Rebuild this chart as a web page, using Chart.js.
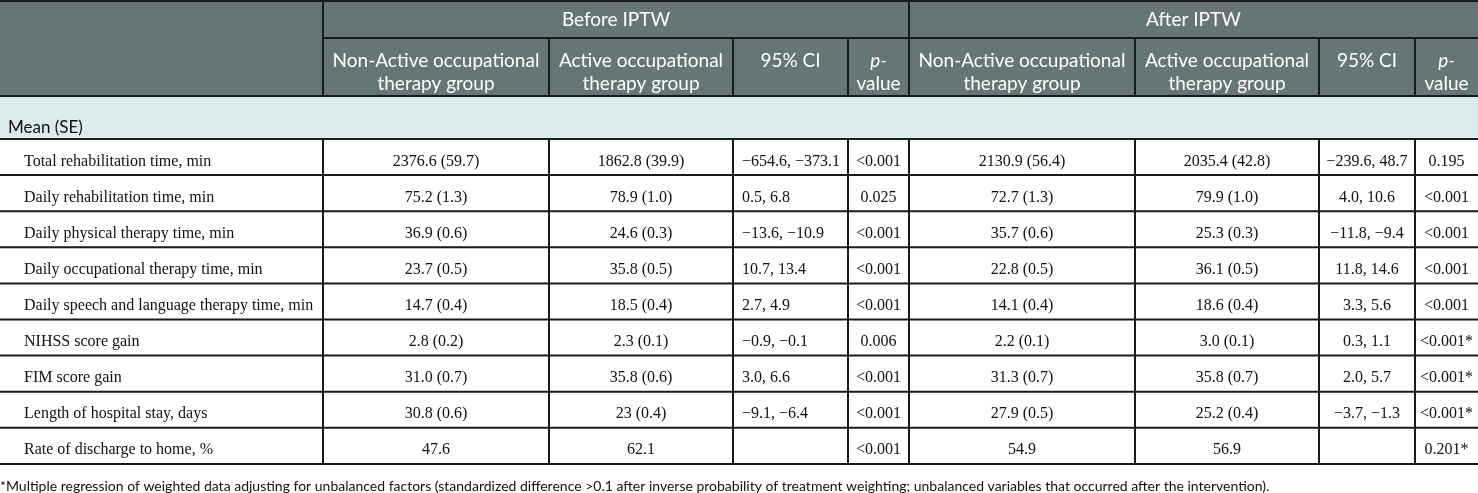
<!DOCTYPE html>
<html>
<head>
<meta charset="utf-8">
<script src="https://cdn.jsdelivr.net/npm/chart.js@4/dist/chart.umd.min.js"></script>
<style>
  html, body { margin: 0; padding: 0; background: #ffffff; }
  #wrap { position: relative; width: 1478px; height: 493px; }
</style>
</head>
<body>
<div id="wrap"><canvas id="c"></canvas></div>
<script>
// ---------- DATA ----------
const groupHeaders = ["Before IPTW", "After IPTW"];
const subHeaders = [
  ["Non-Active occupational", "therapy group"],
  ["Active occupational", "therapy group"],
  ["95% CI"],
  ["p-", "value"]
];
const sectionLabel = "Mean (SE)";
const rowLabels = [
  "Total rehabilitation time, min",
  "Daily rehabilitation time, min",
  "Daily physical therapy time, min",
  "Daily occupational therapy time, min",
  "Daily speech and language therapy time, min",
  "NIHSS score gain",
  "FIM score gain",
  "Length of hospital stay, days",
  "Rate of discharge to home, %"
];
const beforeNonActive = ["2376.6 (59.7)", "75.2 (1.3)", "36.9 (0.6)", "23.7 (0.5)", "14.7 (0.4)", "2.8 (0.2)", "31.0 (0.7)", "30.8 (0.6)", "47.6"];
const beforeActive    = ["1862.8 (39.9)", "78.9 (1.0)", "24.6 (0.3)", "35.8 (0.5)", "18.5 (0.4)", "2.3 (0.1)", "35.8 (0.6)", "23 (0.4)", "62.1"];
const beforeCI        = ["\u2212654.6, \u2212373.1", "0.5, 6.8", "\u221213.6, \u221210.9", "10.7, 13.4", "2.7, 4.9", "\u22120.9, \u22120.1", "3.0, 6.6", "\u22129.1, \u22126.4", ""];
const beforeP         = ["<0.001", "0.025", "<0.001", "<0.001", "<0.001", "0.006", "<0.001", "<0.001", "<0.001"];
const afterNonActive  = ["2130.9 (56.4)", "72.7 (1.3)", "35.7 (0.6)", "22.8 (0.5)", "14.1 (0.4)", "2.2 (0.1)", "31.3 (0.7)", "27.9 (0.5)", "54.9"];
const afterActive     = ["2035.4 (42.8)", "79.9 (1.0)", "25.3 (0.3)", "36.1 (0.5)", "18.6 (0.4)", "3.0 (0.1)", "35.8 (0.7)", "25.2 (0.4)", "56.9"];
const afterCI         = ["\u2212239.6, 48.7", "4.0, 10.6", "\u221211.8, \u22129.4", "11.8, 14.6", "3.3, 5.6", "0.3, 1.1", "2.0, 5.7", "\u22123.7, \u22121.3", ""];
const afterP          = ["0.195", "<0.001", "<0.001", "<0.001", "<0.001", "<0.001*", "<0.001*", "<0.001*", "0.201*"];
const footnote = "*Multiple regression of weighted data adjusting for unbalanced factors (standardized difference >0.1 after inverse probability of treatment weighting; unbalanced variables that occurred after the intervention).";

// ---------- LAYOUT (scale units) ----------
const layout = {
  colEdges: [0, 323, 549, 733, 848, 909, 1135, 1319, 1415, 1478],
  headerRow1: [0, 38],
  headerRow2: [38, 96],
  sectionRow: [96, 139],
  dataTop: 139,
  dataRowH: 36.1,
  footY: 491,
  total: [1478, 493]
};

const columns = [beforeNonActive, beforeActive, beforeCI, beforeP, afterNonActive, afterActive, afterCI, afterP];
const colAlign = ["center", "center", "left", "center", "center", "center", "center", "center"];

const HEAD_BG = "#667674";
const SECTION_BG = "#dbeceb";
const LINE = "#1a1a1a";
const SANS = "Lato, 'Open Sans', sans-serif";
const SERIF = "'Liberation Serif', 'DejaVu Serif', serif";

const tablePlugin = {
  id: "tablePlugin",
  afterDraw(chart) {
    const ctx = chart.ctx;
    const xs = chart.scales.x, ys = chart.scales.y;
    const X = v => xs.getPixelForValue(v);
    const Y = v => ys.getPixelForValue(v);
    const E = layout.colEdges;
    const nRows = rowLabels.length;
    const rowTop = i => layout.dataTop + i * layout.dataRowH;
    const right = E[E.length - 1];
    ctx.save();

    // backgrounds
    ctx.fillStyle = HEAD_BG;
    ctx.fillRect(X(0), Y(0), X(right) - X(0), Y(layout.headerRow2[1]) - Y(0));
    ctx.fillStyle = SECTION_BG;
    ctx.fillRect(X(0), Y(layout.sectionRow[0]), X(right) - X(0), Y(layout.sectionRow[1]) - Y(layout.sectionRow[0]));

    // lines
    ctx.strokeStyle = LINE;
    ctx.lineWidth = 2;
    const hline = (y, x0, x1) => { ctx.beginPath(); ctx.moveTo(X(x0), Y(y)); ctx.lineTo(X(x1), Y(y)); ctx.stroke(); };
    const vline = (x, y0, y1) => { ctx.beginPath(); ctx.moveTo(X(x), Y(y0)); ctx.lineTo(X(x), Y(y1)); ctx.stroke(); };
    hline(1, 0, right);
    hline(layout.headerRow1[1], E[1], right);
    hline(layout.headerRow2[1], 0, right);
    hline(layout.sectionRow[1], 0, right);
    for (let i = 1; i <= nRows; i++) hline(rowTop(i), 0, right);
    // header verticals
    vline(E[1], 0, layout.headerRow2[1]);
    vline(E[5], 0, layout.headerRow2[1]);
    [2, 3, 4, 6, 7, 8].forEach(k => vline(E[k], layout.headerRow2[0], layout.headerRow2[1]));
    // data verticals
    for (let k = 1; k < E.length - 1; k++) vline(E[k], layout.sectionRow[1], rowTop(nRows));

    // header texts
    ctx.fillStyle = "#ffffff";
    ctx.textBaseline = "middle";
    ctx.textAlign = "center";
    ctx.font = "19px " + SANS;
    groupHeaders.forEach((t, g) => {
      const x0 = E[1 + g * 4], x1 = E[5 + g * 4];
      ctx.fillText(t, (X(x0) + X(x1)) / 2, Y(20));
    });
    for (let g = 0; g < 2; g++) {
      subHeaders.forEach((lines, j) => {
        const k = 1 + g * 4 + j;
        const cx = (X(E[k]) + X(E[k + 1])) / 2;
        lines.forEach((ln, li) => {
          const yy = Y(61 + li * 23);
          if (ln === "p-") {
            ctx.font = "italic 19px " + SANS;
            ctx.fillText(ln, cx, yy);
            ctx.font = "19px " + SANS;
          } else {
            ctx.fillText(ln, cx, yy);
          }
        });
      });
    }

    // section label
    ctx.fillStyle = "#111111";
    ctx.textAlign = "left";
    ctx.font = "17px " + SANS;
    ctx.fillText(sectionLabel, X(8), Y(128));

    // data rows
    ctx.font = "16px " + SERIF;
    ctx.textBaseline = "alphabetic";
    for (let i = 0; i < nRows; i++) {
      const by = Y(rowTop(i) + 26.5);
      ctx.textAlign = "left";
      ctx.fillText(rowLabels[i], X(24), by);
      columns.forEach((col, c) => {
        const t = col[i];
        if (!t) return;
        const x0 = X(E[c + 1]), x1 = X(E[c + 2]);
        if (colAlign[c] === "left") {
          ctx.textAlign = "left";
          ctx.fillText(t, x0 + 9, by);
        } else {
          ctx.textAlign = "center";
          ctx.fillText(t, (x0 + x1) / 2, by);
        }
      });
    }

    // footnote
    ctx.textAlign = "left";
    ctx.font = "14px " + SANS;
    ctx.fillStyle = "#111111";
    ctx.fillText(footnote, X(0), Y(layout.footY), X(1385) - X(0));
    ctx.restore();
  }
};

new Chart(document.getElementById("c"), {
  type: "scatter",
  data: { datasets: [{ data: [], pointRadius: 0 }] },
  options: {
    responsive: true,
    maintainAspectRatio: false,
    animation: false,
    layout: { padding: 0 },
    plugins: { legend: { display: false }, tooltip: { enabled: false }, title: { display: false } },
    scales: {
      x: { type: "linear", min: 0, max: layout.total[0], display: false },
      y: { type: "linear", min: 0, max: layout.total[1], reverse: true, display: false }
    }
  },
  plugins: [tablePlugin]
});
</script>
</body>
</html>
